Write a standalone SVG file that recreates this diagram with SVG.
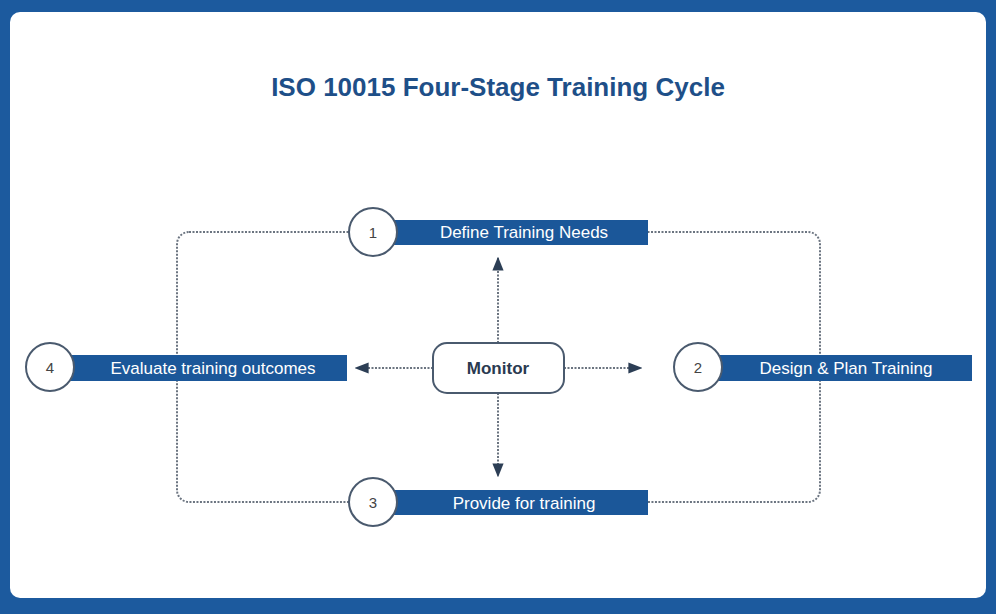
<svg xmlns="http://www.w3.org/2000/svg" width="996" height="614" viewBox="0 0 996 614">
<defs>
<style>
.bar{fill:#1b5799}
.circ{fill:#fff;stroke:#4a5a6e;stroke-width:2}
.num{font-family:"Liberation Sans",sans-serif;font-size:15px;fill:#444;text-anchor:middle}
.lbl{font-family:"Liberation Sans",sans-serif;font-size:17px;fill:#fff;text-anchor:middle}
.dot{fill:none;stroke:#6b7480;stroke-width:2;stroke-dasharray:2 1.5}
</style>
<marker id="ah" viewBox="0 0 10 10" refX="9" refY="5" markerWidth="7" markerHeight="7" orient="auto"><path d="M0,1 L10,5 L0,9 Z" fill="#2c3e55"/></marker>
</defs>
<rect width="996" height="614" fill="#1c5a9e"/>
<rect x="10" y="12" width="976" height="586" rx="10" fill="#fff"/>
<text x="498" y="96" font-family="Liberation Sans,sans-serif" font-size="26" font-weight="bold" fill="#1e4f88" text-anchor="middle">ISO 10015 Four-Stage Training Cycle</text>
<g id="connectors">
<rect class="dot" x="177" y="232" width="643" height="270" rx="12"/>
<line class="dot" x1="498" y1="343" x2="498" y2="258" marker-end="url(#ah)"/>
<line class="dot" x1="498" y1="393" x2="498" y2="476" marker-end="url(#ah)"/>
<line class="dot" x1="433" y1="368" x2="356" y2="368" marker-end="url(#ah)"/>
<line class="dot" x1="564" y1="368" x2="641" y2="368" marker-end="url(#ah)"/>
</g>
<g id="n1"><rect class="bar" x="390" y="220" width="258" height="25"/><circle class="circ" cx="373" cy="232" r="24"/><text class="num" x="373" y="238">1</text><text class="lbl" x="524" y="238">Define Training Needs</text></g>
<g id="n2"><rect class="bar" x="715" y="355" width="257" height="26"/><circle class="circ" cx="698" cy="367" r="24"/><text class="num" x="698" y="373">2</text><text class="lbl" x="846" y="374">Design &amp; Plan Training</text></g>
<g id="n3"><rect class="bar" x="390" y="490" width="258" height="25"/><circle class="circ" cx="373" cy="502" r="24"/><text class="num" x="373" y="508">3</text><text class="lbl" x="524" y="509">Provide for training</text></g>
<g id="n4"><rect class="bar" x="66" y="355" width="281" height="26"/><circle class="circ" cx="50" cy="367" r="24"/><text class="num" x="50" y="373">4</text><text class="lbl" x="213" y="374">Evaluate training outcomes</text></g>
<g id="monitor"><rect x="433" y="343" width="131" height="50" rx="14" fill="#fff" stroke="#4a5a6e" stroke-width="2"/><text x="498" y="374" font-family="Liberation Sans,sans-serif" font-size="17" font-weight="bold" fill="#2a3a50" text-anchor="middle">Monitor</text></g>
</svg>
